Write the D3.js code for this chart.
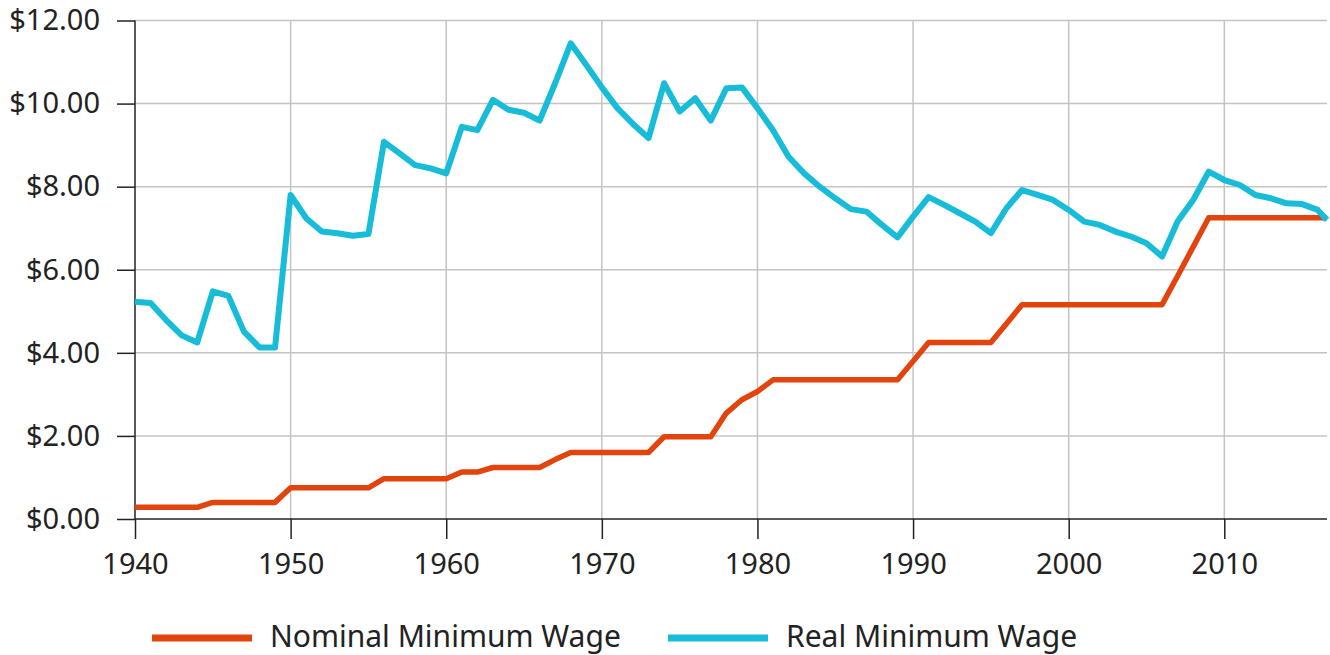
<!DOCTYPE html>
<html>
<head>
<meta charset="utf-8">
<script src="https://cdn.jsdelivr.net/npm/d3@7"></script>
<style>
  body { margin: 0; background: #fff; }
  svg text { font-family: "Noto Sans", "Open Sans", sans-serif; }
  .grid line { stroke: #c4c4c4; stroke-width: 1.5; }
  .axis text { font-size: 29px; fill: #222; }
  .axis line, .axis path { stroke: #222; stroke-width: 1.5; }
  .legend text { font-size: 30px; fill: #222; }
</style>
</head>
<body>
<div id="chart"></div>
<script>
// Years and values
const years = d3.range(1940, 2017);

const nominalWage = [
  0.28, 0.28, 0.28, 0.28, 0.28, 0.40, 0.40, 0.40, 0.40, 0.40, // 1940s
  0.75, 0.75, 0.75, 0.75, 0.75, 0.75, 0.97, 0.97, 0.97, 0.97, // 1950s
  0.97, 1.13, 1.13, 1.24, 1.24, 1.24, 1.24, 1.43, 1.60, 1.60, // 1960s
  1.60, 1.60, 1.60, 1.60, 1.98, 1.98, 1.98, 1.98, 2.55, 2.87, // 1970s
  3.07, 3.35, 3.35, 3.35, 3.35, 3.35, 3.35, 3.35, 3.35, 3.35, // 1980s
  3.80, 4.25, 4.25, 4.25, 4.25, 4.25, 4.70, 5.16, 5.16, 5.16, // 1990s
  5.16, 5.16, 5.16, 5.16, 5.16, 5.16, 5.16, 5.85, 6.55, 7.25, // 2000s
  7.25, 7.25, 7.25, 7.25, 7.25, 7.25, 7.25                    // 2010s
];

const realWage = [
  5.23, 5.20, 4.79, 4.42, 4.25, 5.48, 5.37, 4.51, 4.13, 4.13,
  7.80, 7.24, 6.92, 6.88, 6.82, 6.86, 9.08, 8.80, 8.52, 8.44,
  8.32, 9.44, 9.36, 10.09, 9.85, 9.78, 9.59, 10.49, 11.45, 10.93,
  10.39, 9.89, 9.51, 9.17, 10.49, 9.81, 10.13, 9.59, 10.37, 10.39,
  9.89, 9.36, 8.72, 8.32, 8.00, 7.72, 7.46, 7.40, 7.08, 6.78,
  7.28, 7.75, 7.56, 7.36, 7.16, 6.88, 7.48, 7.92, 7.80, 7.68,
  7.44, 7.16, 7.08, 6.92, 6.80, 6.64, 6.32, 7.16, 7.68, 8.36,
  8.16, 8.04, 7.80, 7.72, 7.60, 7.58, 7.44
];

// the plotted lines run slightly past the last whole year
const endYear = 2016.6;
const endNominal = 7.25;
const endReal = 7.20;

const yTicks = [0, 2, 4, 6, 8, 10, 12];
const xTicks = [1940, 1950, 1960, 1970, 1980, 1990, 2000, 2010];

const seriesNames = ['Nominal Minimum Wage', 'Real Minimum Wage'];
const colors = ['#e2440e', '#17bcd9'];

const width = 1330;
const height = 655;
const margin = { top: 20.5, right: 3, bottom: 136, left: 135 };

const svg = d3.select('#chart').append('svg')
    .attr('width', width)
    .attr('height', height);

const x = d3.scaleLinear()
    .domain([1940, endYear])
    .range([margin.left, width - margin.right]);

const y = d3.scaleLinear()
    .domain([0, 12])
    .range([height - margin.bottom, margin.top]);

// Gridlines
const grid = svg.append('g').attr('class', 'grid');
grid.selectAll('.h')
    .data(yTicks.slice(1))
  .enter().append('line')
    .attr('x1', margin.left)
    .attr('x2', width - margin.right)
    .attr('y1', d => y(d))
    .attr('y2', d => y(d));
grid.selectAll('.v')
    .data(xTicks.slice(1))
  .enter().append('line')
    .attr('x1', d => x(d))
    .attr('x2', d => x(d))
    .attr('y1', margin.top)
    .attr('y2', y(0));

// Axes
const yAxis = svg.append('g')
    .attr('class', 'axis')
    .attr('transform', `translate(${margin.left},0)`)
    .call(d3.axisLeft(y)
      .tickValues(yTicks)
      .tickSize(18)
      .tickPadding(17)
      .tickFormat(d => `$${d.toFixed(2)}`));
yAxis.select('.domain').attr('d', `M0,${margin.top}V${y(0)}`);

const xAxis = svg.append('g')
    .attr('class', 'axis')
    .attr('transform', `translate(0,${y(0)})`)
    .call(d3.axisBottom(x)
      .tickValues(xTicks)
      .tickSize(20)
      .tickPadding(14)
      .tickFormat(d3.format('d')));
xAxis.select('.domain').attr('d', `M${margin.left},0H${width - margin.right}`);

// Lines
const line = d3.line()
    .x(d => x(d[0]))
    .y(d => y(d[1]));

const nominalPoints = years.map((yr, i) => [yr, nominalWage[i]]).concat([[endYear, endNominal]]);
const realPoints = years.map((yr, i) => [yr, realWage[i]]).concat([[endYear, endReal]]);

svg.append('path')
    .datum(nominalPoints)
    .attr('fill', 'none')
    .attr('stroke', colors[0])
    .attr('stroke-width', 5.5)
    .attr('stroke-linejoin', 'round')
    .attr('d', line);

svg.append('path')
    .datum(realPoints)
    .attr('fill', 'none')
    .attr('stroke', colors[1])
    .attr('stroke-width', 6)
    .attr('stroke-linejoin', 'round')
    .attr('d', line);

// Legend
const legend = svg.append('g').attr('class', 'legend');
const legendX = [152, 668];
seriesNames.forEach((name, i) => {
  legend.append('line')
      .attr('x1', legendX[i])
      .attr('x2', legendX[i] + 100)
      .attr('y1', 638)
      .attr('y2', 638)
      .attr('stroke', colors[i])
      .attr('stroke-width', 7);
  legend.append('text')
      .attr('x', legendX[i] + 118)
      .attr('y', 647)
      .text(name);
});
</script>
</body>
</html>
